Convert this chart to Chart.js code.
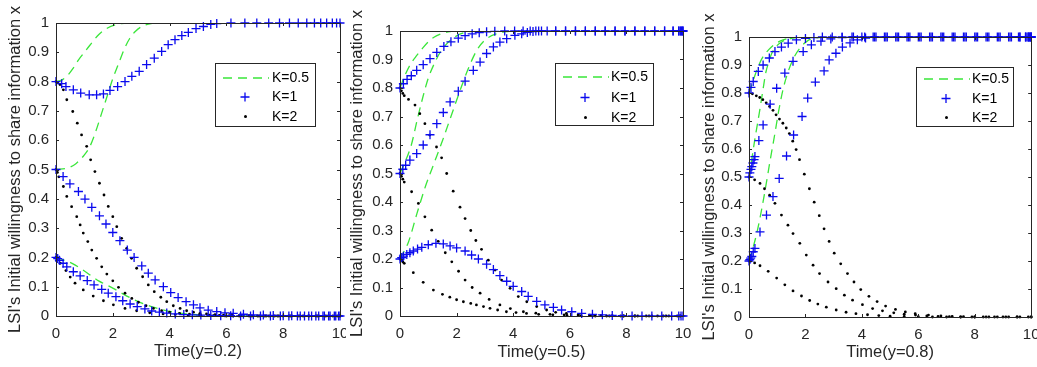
<!DOCTYPE html>
<html>
<head>
<meta charset="utf-8">
<script src="https://cdn.jsdelivr.net/npm/chart.js@4/dist/chart.umd.min.js"></script>
<style>
html,body{margin:0;padding:0;background:#fff;}
#wrap{position:relative;width:1037px;height:367px;background:#fff;overflow:hidden;}
canvas{position:absolute;top:0;}
</style>
</head>
<body>
<div id="wrap">
<canvas id="c1" width="346" height="367" style="left:0px"></canvas>
<canvas id="c2" width="345" height="367" style="left:346px"></canvas>
<canvas id="c3" width="346" height="367" style="left:691px"></canvas>
</div>
<script>
// ---------- labels ----------
const kLabels = ['K=0.5', 'K=1', 'K=2'];
const xTickLabels = ['0', '2', '4', '6', '8', '10'];
const yTickLabels = ['0', '0.1', '0.2', '0.3', '0.4', '0.5', '0.6', '0.7', '0.8', '0.9', '1'];
const xTitles = ['Time(y=0.2)', 'Time(y=0.5)', 'Time(y=0.8)'];
const yTitle = "LSI's Initial willingness to share information x";

// ---------- panel 1 (y=0.2): [time, x] ----------
const p1_K05_x08 = [[0,0.8],[0.2,0.805],[0.4,0.82],[0.6,0.845],[0.8,0.875],[1.0,0.9],[1.2,0.925],[1.5,0.96],[1.8,0.982],[2.1,0.994],[2.4,0.999],[3,1],[10,1]];
const p1_K05_x05 = [[0,0.5],[0.4,0.505],[0.7,0.52],[1.0,0.55],[1.2,0.58],[1.4,0.63],[1.6,0.69],[1.8,0.75],[2.0,0.81],[2.2,0.86],[2.4,0.91],[2.6,0.948],[2.8,0.972],[3.0,0.987],[3.3,0.997],[3.6,1],[10,1]];
const p1_K05_x02 = [[0,0.2],[0.3,0.19],[0.6,0.178],[0.9,0.16],[1.2,0.14],[1.5,0.12],[1.8,0.105],[2.1,0.09],[2.4,0.073],[2.7,0.058],[3.0,0.045],[3.4,0.031],[3.8,0.02],[4.2,0.012],[4.6,0.007],[5.2,0.003],[6,0.001],[7,0],[10,0]];
const p1_K1_x08 = [[0,0.8],[0.2,0.793],[0.35,0.783],[0.61,0.772],[0.87,0.761],[1.17,0.755],[1.43,0.755],[1.67,0.758],[1.9,0.77],[2.17,0.783],[2.43,0.8],[2.67,0.818],[2.93,0.835],[3.19,0.858],[3.46,0.88],[3.72,0.903],[3.95,0.926],[4.19,0.943],[4.43,0.957],[4.66,0.968],[4.93,0.981],[5.19,0.988],[5.45,0.995],[5.66,0.998],[6.16,1],[6.65,1],[7.07,1],[7.49,1],[7.87,1],[8.22,1],[8.53,1],[8.83,1],[9.1,1],[9.32,1],[9.53,1],[9.73,1],[9.88,1],[10,1]];
const p1_K1_x05 = [[0,0.5],[0.25,0.476],[0.49,0.451],[0.79,0.425],[1.02,0.399],[1.26,0.371],[1.53,0.342],[1.76,0.314],[2.0,0.285],[2.25,0.257],[2.51,0.225],[2.75,0.2],[3.02,0.171],[3.25,0.146],[3.49,0.123],[3.78,0.1],[4.04,0.08],[4.3,0.063],[4.58,0.049],[4.84,0.038],[5.07,0.028],[5.36,0.02],[5.66,0.015],[5.95,0.011],[6.24,0.009],[6.6,0.006],[6.95,0.004],[7.3,0.003],[7.65,0.002],[8.0,0.001],[8.3,0.001],[8.6,0],[8.9,0],[9.15,0],[9.4,0],[9.6,0],[9.8,0],[9.95,0]];
const p1_K1_x02 = [[0,0.2],[0.06,0.196],[0.12,0.19],[0.25,0.18],[0.38,0.168],[0.61,0.151],[0.85,0.137],[1.1,0.121],[1.34,0.106],[1.61,0.091],[1.84,0.078],[2.11,0.066],[2.35,0.052],[2.61,0.041],[2.86,0.032],[3.13,0.024],[3.37,0.017],[3.64,0.013],[3.9,0.01],[4.2,0.007],[4.5,0.005],[4.8,0.004],[5.1,0.003],[5.45,0.002],[5.8,0.001],[6.15,0.001],[6.5,0],[6.85,0],[7.2,0],[7.55,0],[7.9,0],[8.2,0],[8.5,0],[8.75,0],[9.0,0],[9.25,0],[9.45,0],[9.65,0],[9.85,0],[10,0]];
const p1_K2_x08 = [[0,0.8],[0.05,0.797],[0.14,0.79],[0.26,0.772],[0.38,0.738],[0.59,0.698],[0.75,0.658],[0.9,0.618],[1.08,0.579],[1.22,0.533],[1.37,0.493],[1.53,0.453],[1.69,0.413],[1.84,0.374],[2.0,0.339],[2.14,0.305],[2.31,0.265],[2.49,0.231],[2.66,0.197],[2.84,0.163],[3.05,0.134],[3.25,0.106],[3.46,0.083],[3.69,0.064],[3.9,0.049],[4.13,0.035],[4.37,0.026],[4.6,0.018],[4.84,0.013],[5.07,0.009],[5.3,0.007],[5.6,0.005],[5.9,0.003],[6.2,0.002],[6.5,0.001],[6.8,0.001],[7.1,0],[7.4,0],[7.7,0],[8.0,0],[8.3,0],[8.6,0],[8.9,0],[9.2,0],[9.5,0],[9.75,0],[10,0]];
const p1_K2_x05 = [[0,0.5],[0.05,0.49],[0.1,0.475],[0.26,0.442],[0.38,0.408],[0.55,0.373],[0.73,0.339],[0.85,0.311],[0.96,0.283],[1.12,0.254],[1.26,0.225],[1.43,0.197],[1.61,0.168],[1.79,0.143],[2.0,0.12],[2.2,0.098],[2.43,0.078],[2.67,0.06],[2.9,0.047],[3.17,0.035],[3.43,0.026],[3.72,0.018],[4.0,0.013],[4.35,0.009],[4.7,0.006],[5.05,0.004],[5.4,0.003],[5.75,0.002],[6.1,0.001],[6.45,0.001],[6.8,0],[7.15,0],[7.5,0],[7.85,0],[8.2,0],[8.55,0],[8.9,0],[9.25,0],[9.6,0],[9.9,0]];
const p1_K2_x02 = [[0,0.2],[0.05,0.195],[0.15,0.18],[0.35,0.155],[0.5,0.133],[0.67,0.112],[0.96,0.089],[1.31,0.068],[1.67,0.052],[2.02,0.038],[2.43,0.026],[2.84,0.018],[3.3,0.011],[3.77,0.007],[4.2,0.005],[4.65,0.003],[5.1,0.002],[5.55,0.001],[6.0,0],[6.45,0],[6.9,0],[7.35,0],[7.8,0],[8.25,0],[8.7,0],[9.15,0],[9.6,0],[10,0]];

// ---------- panel 2 (y=0.5) ----------
const p2_K05_x08 = [[0,0.8],[0.2,0.85],[0.4,0.888],[0.6,0.915],[0.8,0.94],[1.0,0.962],[1.2,0.978],[1.45,0.99],[1.7,0.997],[2,1],[10,1]];
const p2_K05_x05 = [[0,0.5],[0.2,0.545],[0.4,0.6],[0.6,0.685],[0.8,0.765],[1.0,0.835],[1.2,0.883],[1.4,0.922],[1.7,0.96],[2.0,0.983],[2.3,0.995],[2.7,1],[10,1]];
const p2_K05_x02 = [[0,0.2],[0.3,0.26],[0.6,0.36],[0.9,0.455],[1.2,0.535],[1.5,0.615],[1.8,0.7],[2.1,0.785],[2.4,0.865],[2.7,0.93],[3.0,0.968],[3.4,0.99],[3.8,0.998],[4.2,1],[10,1]];
const p2_K1_x08 = [[0,0.8],[0.12,0.815],[0.25,0.83],[0.4,0.843],[0.59,0.862],[0.82,0.882],[1.06,0.903],[1.3,0.925],[1.55,0.946],[1.8,0.962],[2.06,0.975],[2.3,0.984],[2.55,0.99],[2.8,0.994],[3.06,0.997],[3.35,0.999],[3.7,1],[4.05,1],[4.35,1],[4.6,1],[4.8,1],[5.0,1],[5.5,1],[5.85,1],[6.2,1],[6.55,1],[6.9,1],[7.25,1],[7.6,1],[7.95,1],[8.3,1],[8.65,1],[9.0,1],[9.35,1],[9.65,1],[9.85,1],[9.9,1],[9.95,1],[10,1]];
const p2_K1_x05 = [[0,0.5],[0.1,0.515],[0.2,0.529],[0.35,0.547],[0.59,0.57],[0.82,0.6],[1.06,0.636],[1.3,0.675],[1.53,0.714],[1.77,0.751],[2.06,0.789],[2.3,0.824],[2.59,0.862],[2.83,0.891],[3.06,0.921],[3.3,0.944],[3.53,0.961],[3.77,0.973],[4.06,0.985],[4.3,0.99],[4.5,0.995],[4.7,0.998],[4.9,1],[5.2,1],[5.5,1],[5.85,1],[6.2,1],[6.55,1],[6.9,1],[7.25,1],[7.6,1],[7.95,1],[8.3,1],[8.65,1],[9.0,1],[9.35,1],[9.65,1],[9.85,1],[9.92,1],[9.97,1],[10,1]];
const p2_K1_x02 = [[0,0.2],[0.06,0.205],[0.12,0.21],[0.24,0.216],[0.35,0.222],[0.47,0.228],[0.62,0.235],[0.77,0.241],[1.0,0.25],[1.27,0.255],[1.53,0.253],[1.77,0.246],[2.0,0.239],[2.3,0.228],[2.53,0.214],[2.77,0.2],[3.06,0.182],[3.3,0.163],[3.53,0.142],[3.77,0.122],[4.0,0.104],[4.3,0.086],[4.53,0.069],[4.83,0.051],[5.12,0.039],[5.42,0.03],[5.71,0.021],[6.07,0.015],[6.42,0.009],[6.8,0.006],[7.15,0.004],[7.5,0.002],[7.85,0.001],[8.2,0],[8.55,0],[8.9,0],[9.25,0],[9.6,0],[9.85,0],[9.93,0],[10,0]];
const p2_K2_x08 = [[0,0.8],[0.05,0.79],[0.1,0.781],[0.15,0.773],[0.3,0.76],[0.53,0.74],[0.7,0.71],[0.88,0.675],[1.05,0.635],[1.29,0.593],[1.47,0.555],[1.65,0.5],[1.88,0.438],[2.12,0.382],[2.3,0.342],[2.5,0.3],[2.68,0.265],[2.88,0.234],[3.12,0.196],[3.36,0.161],[3.59,0.126],[3.89,0.097],[4.18,0.068],[4.48,0.05],[4.83,0.033],[5.18,0.021],[5.5,0.013],[5.88,0.009],[6.3,0.005],[6.7,0.003],[7.1,0.002],[7.5,0.001],[7.9,0],[8.3,0],[8.7,0],[9.1,0],[9.5,0],[9.9,0]];
const p2_K2_x05 = [[0,0.5],[0.05,0.49],[0.1,0.48],[0.15,0.47],[0.41,0.436],[0.65,0.395],[0.88,0.348],[1.12,0.301],[1.35,0.262],[1.6,0.222],[1.83,0.19],[2.07,0.157],[2.3,0.126],[2.55,0.1],[2.83,0.08],[3.15,0.058],[3.53,0.039],[3.9,0.026],[4.36,0.015],[4.8,0.01],[5.3,0.006],[5.8,0.004],[6.3,0.002],[6.8,0.001],[7.3,0],[7.8,0],[8.3,0],[8.8,0],[9.3,0],[9.8,0]];
const p2_K2_x02 = [[0,0.2],[0.05,0.195],[0.1,0.19],[0.15,0.185],[0.47,0.152],[0.82,0.118],[1.18,0.091],[1.5,0.076],[1.76,0.066],[2.0,0.057],[2.24,0.05],[2.5,0.044],[2.7,0.039],[2.95,0.033],[3.18,0.027],[3.45,0.021],[3.76,0.015],[4.1,0.012],[4.47,0.009],[4.9,0.006],[5.4,0.004],[5.9,0.002],[6.4,0.001],[6.9,0],[7.4,0],[7.9,0],[8.4,0],[8.9,0],[9.4,0],[9.9,0]];

// ---------- panel 3 (y=0.8) ----------
const p3_K05_x08 = [[0,0.8],[0.1,0.83],[0.2,0.86],[0.35,0.9],[0.5,0.93],[0.7,0.955],[0.9,0.973],[1.1,0.985],[1.35,0.994],[1.6,0.998],[2,1],[10,1]];
const p3_K05_x05 = [[0,0.5],[0.1,0.565],[0.2,0.63],[0.3,0.69],[0.4,0.75],[0.5,0.815],[0.6,0.875],[0.7,0.91],[0.8,0.94],[1.0,0.97],[1.2,0.985],[1.5,0.995],[1.9,1],[10,1]];
const p3_K05_x02 = [[0,0.2],[0.15,0.25],[0.3,0.31],[0.45,0.385],[0.6,0.47],[0.75,0.56],[0.9,0.645],[1.05,0.735],[1.2,0.81],[1.35,0.865],[1.55,0.918],[1.8,0.96],[2.1,0.988],[2.5,0.998],[3,1],[10,1]];
const p3_K1_x08 = [[0,0.8],[0.07,0.82],[0.15,0.841],[0.33,0.877],[0.5,0.9],[0.72,0.925],[0.92,0.948],[1.15,0.964],[1.39,0.978],[1.68,0.99],[2.0,0.995],[2.3,0.998],[2.6,1],[2.95,1],[3.3,1],[3.65,1],[4.0,1],[4.4,1],[4.8,1],[5.2,1],[5.6,1],[6.0,1],[6.4,1],[6.8,1],[7.2,1],[7.6,1],[8.0,1],[8.4,1],[8.8,1],[9.2,1],[9.55,1],[9.8,1],[9.9,1],[9.95,1],[10,1]];
const p3_K1_x05 = [[0,0.5],[0.03,0.515],[0.07,0.527],[0.1,0.537],[0.14,0.55],[0.18,0.562],[0.21,0.573],[0.35,0.63],[0.5,0.686],[0.75,0.76],[0.98,0.817],[1.27,0.871],[1.56,0.913],[1.92,0.948],[2.21,0.972],[2.55,0.985],[2.9,0.993],[3.3,0.998],[3.7,1],[4.1,1],[4.5,1],[4.9,1],[5.3,1],[5.7,1],[6.1,1],[6.5,1],[6.9,1],[7.3,1],[7.7,1],[8.1,1],[8.5,1],[8.9,1],[9.3,1],[9.6,1],[9.85,1],[9.93,1],[10,1]];
const p3_K1_x02 = [[0,0.2],[0.03,0.205],[0.06,0.21],[0.1,0.216],[0.15,0.233],[0.21,0.245],[0.39,0.304],[0.62,0.364],[0.85,0.43],[1.07,0.495],[1.33,0.575],[1.58,0.65],[1.88,0.716],[2.08,0.782],[2.35,0.839],[2.66,0.879],[2.84,0.918],[3.08,0.942],[3.31,0.964],[3.58,0.979],[3.84,0.99],[4.13,0.996],[4.45,1],[4.85,1],[5.25,1],[5.65,1],[6.05,1],[6.45,1],[6.85,1],[7.25,1],[7.65,1],[8.05,1],[8.45,1],[8.85,1],[9.25,1],[9.6,1],[9.8,1],[9.9,1],[9.97,1],[10,1]];
const p3_K2_x08 = [[0,0.8],[0.12,0.797],[0.26,0.79],[0.38,0.784],[0.49,0.776],[0.61,0.765],[0.73,0.752],[0.85,0.738],[0.96,0.722],[1.08,0.707],[1.2,0.692],[1.32,0.675],[1.43,0.655],[1.55,0.628],[1.67,0.598],[1.79,0.562],[1.96,0.51],[2.14,0.458],[2.31,0.41],[2.49,0.362],[2.66,0.315],[2.84,0.27],[3.02,0.228],[3.25,0.19],[3.49,0.155],[3.72,0.125],[3.96,0.098],[4.25,0.074],[4.54,0.055],[4.84,0.039],[5.19,0.027],[5.54,0.018],[5.89,0.012],[6.36,0.007],[6.8,0.004],[7.2,0.002],[7.6,0.001],[8.0,0],[8.4,0],[8.8,0],[9.2,0],[9.6,0],[10,0]];
const p3_K2_x05 = [[0,0.5],[0.2,0.49],[0.39,0.477],[0.55,0.458],[0.73,0.435],[0.92,0.406],[1.15,0.364],[1.38,0.328],[1.56,0.298],[1.8,0.263],[2.03,0.221],[2.27,0.185],[2.5,0.155],[2.8,0.125],[3.09,0.101],[3.38,0.078],[3.67,0.06],[4.02,0.044],[4.38,0.03],[4.73,0.022],[5.13,0.015],[5.5,0.01],[5.9,0.007],[6.3,0.004],[6.7,0.002],[7.1,0.001],[7.5,0],[7.9,0],[8.3,0],[8.7,0],[9.1,0],[9.5,0],[9.9,0]];
const p3_K2_x02 = [[0,0.2],[0.2,0.193],[0.39,0.183],[0.68,0.163],[0.98,0.139],[1.27,0.115],[1.56,0.093],[1.86,0.075],[2.15,0.059],[2.44,0.046],[2.74,0.035],[3.09,0.025],[3.44,0.017],[3.79,0.012],[4.2,0.008],[4.6,0.005],[5.0,0.003],[5.5,0.002],[6.0,0.001],[6.5,0],[7.0,0],[7.5,0],[8.0,0],[8.5,0],[9.0,0],[9.5,0],[10,0]];

// ---------- styling ----------
const GREEN = '#3ae63a';
const BLUE = '#0a0aee';
const BLACK = '#000000';
const AXIS = '#262626';
const FONT = "'Liberation Sans', Arial, sans-serif";

const toXY = arr => arr.map(p => ({x: p[0], y: p[1]}));

const framePlugin = {
  id: 'frame',
  afterDatasetsDraw(chart) {
    const {ctx, chartArea: a, scales: {x, y}} = chart;
    ctx.save();
    ctx.strokeStyle = AXIS;
    ctx.lineWidth = 1;
    ctx.beginPath();
    ctx.rect(Math.round(a.left) + 0.5, Math.round(a.top) + 0.5, Math.round(a.right - a.left), Math.round(a.bottom - a.top));
    ctx.stroke();
    const tl = 3;
    ctx.beginPath();
    y.ticks.forEach(t => {
      const py = Math.round(y.getPixelForValue(t.value)) + 0.5;
      ctx.moveTo(a.left, py); ctx.lineTo(a.left + tl, py);
      ctx.moveTo(a.right, py); ctx.lineTo(a.right - tl, py);
    });
    x.ticks.forEach(t => {
      const px = Math.round(x.getPixelForValue(t.value)) + 0.5;
      ctx.moveTo(px, a.bottom); ctx.lineTo(px, a.bottom - tl);
      ctx.moveTo(px, a.top); ctx.lineTo(px, a.top + tl);
    });
    ctx.stroke();
    ctx.restore();
  }
};

const kLegendPlugin = {
  id: 'kLegend',
  afterDraw(chart, args, opts) {
    const b = opts.box;
    const ctx = chart.ctx;
    ctx.save();
    ctx.fillStyle = '#fff';
    ctx.fillRect(b.x, b.y, b.w, b.h);
    ctx.strokeStyle = AXIS;
    ctx.lineWidth = 1;
    ctx.strokeRect(b.x + 0.5, b.y + 0.5, b.w, b.h);
    const styles = ['dash', 'cross', 'dot'];
    kLabels.forEach((lab, i) => {
      const ry = b.y + b.rows[i];
      const mx = b.x + 30;
      if (styles[i] === 'dash') {
        ctx.strokeStyle = GREEN; ctx.lineWidth = 1.5; ctx.setLineDash([9, 6]);
        ctx.beginPath(); ctx.moveTo(b.x + 8, ry + 0.5); ctx.lineTo(b.x + 54, ry + 0.5); ctx.stroke();
        ctx.setLineDash([]);
      } else if (styles[i] === 'cross') {
        ctx.strokeStyle = BLUE; ctx.lineWidth = 1.3;
        ctx.beginPath();
        ctx.moveTo(mx - 4.5, ry + 0.5); ctx.lineTo(mx + 4.5, ry + 0.5);
        ctx.moveTo(mx, ry - 4); ctx.lineTo(mx, ry + 5);
        ctx.stroke();
      } else {
        ctx.fillStyle = BLACK;
        ctx.beginPath(); ctx.arc(mx + 0.5, ry + 0.5, 1.5, 0, Math.PI * 2); ctx.fill();
      }
      ctx.fillStyle = '#000';
      ctx.font = '14px ' + FONT;
      ctx.textBaseline = 'middle';
      ctx.textAlign = 'left';
      ctx.fillText(lab, b.x + b.textX, ry + 1);
    });
    ctx.restore();
  }
};

function makeChart(id, p) {
  const datasets = [];
  p.k1.forEach(arr => datasets.push({
    label: kLabels[1], data: toXY(arr), showLine: false, pointStyle: 'cross',
    pointRadius: 4.5, borderColor: BLUE, backgroundColor: BLUE, pointBorderWidth: 1.3, clip: false
  }));
  p.k2.forEach(arr => datasets.push({
    label: kLabels[2], data: toXY(arr), showLine: false, pointStyle: 'circle',
    pointRadius: 1.4, backgroundColor: BLACK, borderColor: BLACK, pointBorderWidth: 0, clip: false
  }));
  p.k05.forEach(arr => datasets.push({
    label: kLabels[0], data: toXY(arr), showLine: true, pointRadius: 0,
    borderColor: GREEN, borderWidth: 1.3, borderDash: [9, 6], cubicInterpolationMode: 'monotone', fill: false
  }));
  return new Chart(document.getElementById(id), {
    type: 'scatter',
    data: {datasets},
    options: {
      responsive: false, animation: false, events: [],
      layout: {padding: {left: 0, right: p.padRight, top: p.padTop, bottom: 0}},
      plugins: {legend: {display: false}, tooltip: {enabled: false}, kLegend: {box: p.legend}},
      scales: {
        x: {
          type: 'linear', min: 0, max: 10,
          ticks: {stepSize: 2, autoSkip: false, maxRotation: 0, padding: 9, color: AXIS,
                  font: {family: FONT, size: 15}, callback: (v, i) => xTickLabels[i]},
          grid: {display: false, drawTicks: false}, border: {display: false},
          title: {display: true, text: p.xTitle, color: AXIS, font: {family: FONT, size: 16.5}, padding: p.xTitlePad},
          afterFit: s => { s.height = p.xHeight; s.paddingLeft = 0; s.paddingRight = 0; }
        },
        y: {
          type: 'linear', min: 0, max: 1,
          ticks: {stepSize: 0.1, autoSkip: false, padding: 7, color: AXIS,
                  font: {family: FONT, size: 15}, callback: (v, i) => yTickLabels[i]},
          grid: {display: false, drawTicks: false}, border: {display: false},
          title: {display: true, text: yTitle, color: AXIS, font: {family: FONT, size: 16.5}, padding: p.yTitlePad},
          afterFit: s => { s.width = p.yWidth; s.paddingTop = 0; s.paddingBottom = 0; }
        }
      }
    },
    plugins: [framePlugin, kLegendPlugin]
  });
}

makeChart('c1', {
  k05: [p1_K05_x08, p1_K05_x05, p1_K05_x02], k1: [p1_K1_x08, p1_K1_x05, p1_K1_x02], k2: [p1_K2_x08, p1_K2_x05, p1_K2_x02],
  xTitle: xTitles[0], padRight: 6, padTop: 23, yWidth: 56, xHeight: 51, yTitlePad: 6, xTitlePad: 6,
  legend: {x: 215, y: 63, w: 100, h: 63, rows: [14.5, 33.5, 53], textX: 57}
});
makeChart('c2', {
  k05: [p2_K05_x08, p2_K05_x05, p2_K05_x02], k1: [p2_K1_x08, p2_K1_x05, p2_K1_x02], k2: [p2_K2_x08, p2_K2_x05, p2_K2_x02],
  xTitle: xTitles[1], padRight: 8, padTop: 31, yWidth: 54, xHeight: 51, yTitlePad: 2, xTitlePad: 5,
  legend: {x: 209, y: 63, w: 98, h: 62, rows: [13.5, 34, 54], textX: 56}
});
makeChart('c3', {
  k05: [p3_K05_x08, p3_K05_x05, p3_K05_x02], k1: [p3_K1_x08, p3_K1_x05, p3_K1_x02], k2: [p3_K2_x08, p3_K2_x05, p3_K2_x02],
  xTitle: xTitles[2], padRight: 4, padTop: 37, yWidth: 58, xHeight: 50, yTitlePad: 9, xTitlePad: 5,
  legend: {x: 225, y: 67, w: 97, h: 59, rows: [11.5, 31, 50], textX: 56}
});
</script>
</body>
</html>
